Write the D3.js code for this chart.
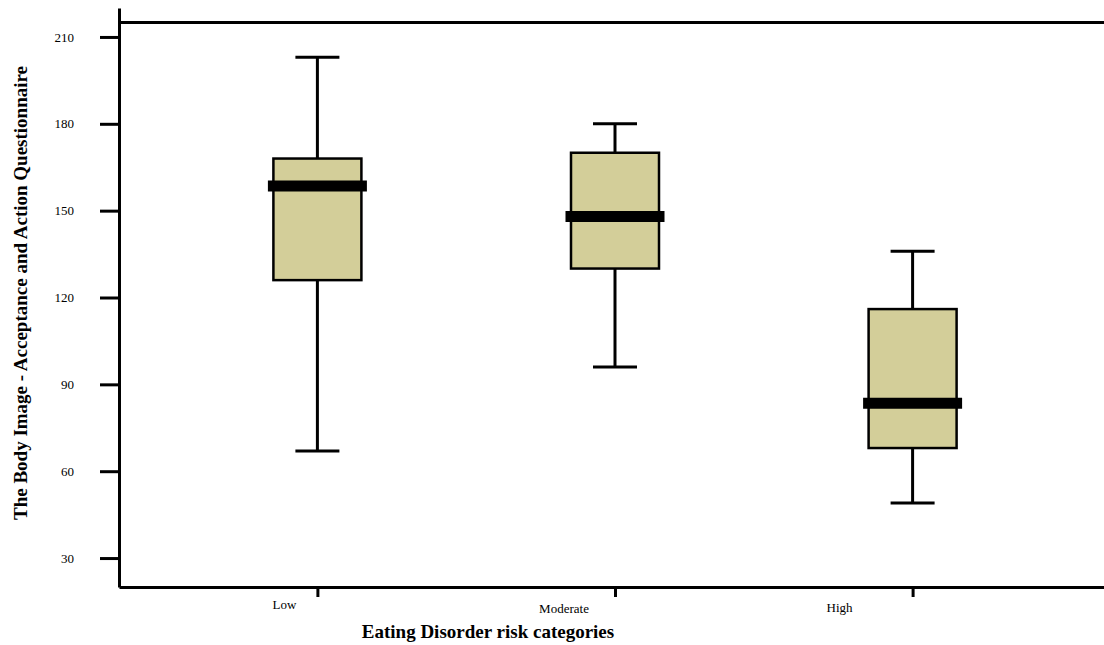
<!DOCTYPE html>
<html>
<head>
<meta charset="utf-8">
<script src="https://cdn.jsdelivr.net/npm/d3@7"></script>
<style>
  html, body { margin: 0; padding: 0; background: #fff; }
  svg { display: block; }
  text { font-family: "Liberation Serif", "Times New Roman", serif; fill: #000; }
</style>
</head>
<body>
<svg id="chart" width="1104" height="645"></svg>
<script>
// Eating disorder risk groups and their BI-AAQ score summaries
const categories = ["Low", "Moderate", "High"];
const whiskerLow  = [67, 96, 49];
const q1          = [126, 130, 68];
const median      = [158.5, 148, 83.5];
const q3          = [168, 170, 116];
const whiskerHigh = [203, 180, 136];
const yTicks = [30, 60, 90, 120, 150, 180, 210];

// Label nudges for the category names (centre offset from the tick, baseline)
const catLabelDx = { Low: -33, Moderate: -51, High: -73 };
const catLabelY  = { Low: 609, Moderate: 613, High: 612 };

const svg = d3.select("#chart");
const W = 1104, H = 645;
const plotLeft = 119, plotBottom = 587, plotTop = 8;

const y = d3.scaleLinear().domain([20, 220]).range([plotBottom, plotTop]);
const x = d3.scalePoint().domain(categories).range([plotLeft, 1111]).padding(2 / 3);

const boxW = 88, capW = 44, medW = 99;

const data = categories.map((c, i) => ({
  cat: c, lo: whiskerLow[i], q1: q1[i], med: median[i], q3: q3[i], hi: whiskerHigh[i]
}));

// Top frame line
svg.append("line")
  .attr("x1", plotLeft).attr("x2", W)
  .attr("y1", y(215)).attr("y2", y(215))
  .attr("stroke", "#000").attr("stroke-width", 3);

// Y axis
const yAxis = svg.append("g")
  .attr("transform", `translate(${plotLeft},0)`)
  .call(d3.axisLeft(y).tickValues(yTicks).tickSize(19).tickSizeOuter(0).tickPadding(26));
yAxis.select(".domain").attr("stroke", "#000").attr("stroke-width", 3);
yAxis.selectAll(".tick line").attr("stroke", "#000").attr("stroke-width", 3);
yAxis.selectAll(".tick text")
  .attr("fill", "#000")
  .attr("font-family", "'Liberation Serif', 'Times New Roman', serif")
  .attr("font-size", 13);

// X axis
const xAxis = svg.append("g")
  .attr("transform", `translate(0,${plotBottom})`)
  .call(d3.axisBottom(x).tickSize(10).tickSizeOuter(0));
xAxis.select(".domain").attr("stroke", "#000").attr("stroke-width", 3);
xAxis.selectAll(".tick line").attr("stroke", "#000").attr("stroke-width", 3);
xAxis.selectAll(".tick text").remove();

svg.append("g").selectAll("text")
  .data(categories)
  .join("text")
  .attr("x", d => x(d) + catLabelDx[d])
  .attr("y", d => catLabelY[d])
  .attr("text-anchor", "middle")
  .attr("font-size", 13)
  .text(d => d);

// Box plots
const g = svg.append("g").selectAll("g")
  .data(data)
  .join("g");

// whiskers
g.append("line")
  .attr("x1", d => x(d.cat)).attr("x2", d => x(d.cat))
  .attr("y1", d => y(d.hi)).attr("y2", d => y(d.lo))
  .attr("stroke", "#000").attr("stroke-width", 3);
g.append("line")
  .attr("x1", d => x(d.cat) - capW / 2).attr("x2", d => x(d.cat) + capW / 2)
  .attr("y1", d => y(d.hi)).attr("y2", d => y(d.hi))
  .attr("stroke", "#000").attr("stroke-width", 3);
g.append("line")
  .attr("x1", d => x(d.cat) - capW / 2).attr("x2", d => x(d.cat) + capW / 2)
  .attr("y1", d => y(d.lo)).attr("y2", d => y(d.lo))
  .attr("stroke", "#000").attr("stroke-width", 3);

// boxes
g.append("rect")
  .attr("x", d => x(d.cat) - boxW / 2)
  .attr("width", boxW)
  .attr("y", d => y(d.q3))
  .attr("height", d => y(d.q1) - y(d.q3))
  .attr("fill", "#d3ce99")
  .attr("stroke", "#000").attr("stroke-width", 2.5);

// medians
g.append("line")
  .attr("x1", d => x(d.cat) - medW / 2).attr("x2", d => x(d.cat) + medW / 2)
  .attr("y1", d => y(d.med)).attr("y2", d => y(d.med))
  .attr("stroke", "#000").attr("stroke-width", 11);

// Axis titles
svg.append("text")
  .attr("x", 488).attr("y", 638)
  .attr("text-anchor", "middle")
  .attr("font-size", 19).attr("font-weight", "bold")
  .text("Eating Disorder risk categories");

svg.append("text")
  .attr("transform", "translate(27,293) rotate(-90)")
  .attr("text-anchor", "middle")
  .attr("font-size", 19).attr("font-weight", "bold")
  .text("The Body Image - Acceptance and Action Questionnaire");
</script>
</body>
</html>
